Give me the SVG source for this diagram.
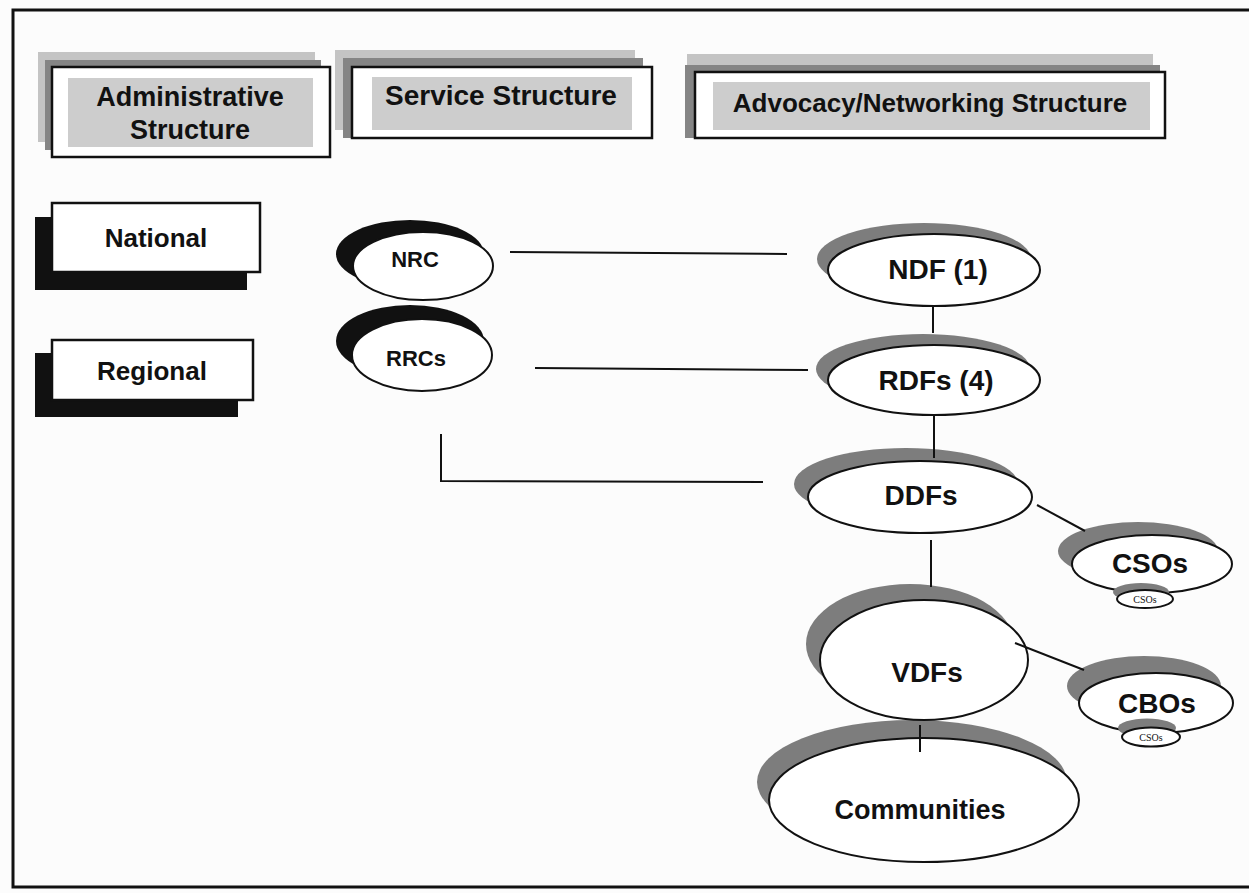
<svg xmlns="http://www.w3.org/2000/svg" width="1249" height="893" viewBox="0 0 1249 893">
  <style>
    .lbl { font-family: "Liberation Sans", Arial, sans-serif; font-weight: bold; fill: #111; text-anchor: middle; }
    .small { font-family: "Liberation Serif", "Times New Roman", serif; fill: #111; text-anchor: middle; font-size: 10px; }
    .box { fill: #ffffff; stroke: #111; stroke-width: 2.5; }
    .lite { fill: #c4c4c4; }
    .dark { fill: #858585; }
    .inner { fill: #cdcdcd; }
    .blk { fill: #111; }
    .oval { fill: #ffffff; stroke: #111; stroke-width: 2; }
    .gsh { fill: #7d7d7d; }
    .conn { stroke: #111; stroke-width: 2; fill: none; }
  </style>
  <rect x="0" y="0" width="1249" height="893" fill="#fcfcfc"/>
  <path d="M1249,10 H13 V887 H1249" fill="none" stroke="#111" stroke-width="3"/>

  <g id="hdr-admin">
    <rect class="lite" x="38" y="52" width="277" height="90"/>
    <rect class="dark" x="45" y="60" width="276" height="90"/>
    <rect class="box" x="52" y="67" width="278" height="90"/>
    <rect class="inner" x="68" y="78" width="245" height="69"/>
    <text class="lbl" x="190" y="106" font-size="27">Administrative</text>
    <text class="lbl" x="190" y="139" font-size="27">Structure</text>
  </g>
  <g id="hdr-service">
    <rect class="lite" x="335" y="50" width="300" height="80"/>
    <rect class="dark" x="343" y="58" width="300" height="80"/>
    <rect class="box" x="352" y="67" width="300" height="71"/>
    <rect class="inner" x="372" y="77" width="260" height="53"/>
    <text class="lbl" x="501" y="105" font-size="28">Service Structure</text>
  </g>
  <g id="hdr-advocacy">
    <rect class="lite" x="687" y="54" width="466" height="80"/>
    <rect class="dark" x="685" y="65" width="475" height="73"/>
    <rect class="box" x="695" y="72" width="470" height="66"/>
    <rect class="inner" x="713" y="82" width="437" height="48"/>
    <text class="lbl" x="930" y="112" font-size="26">Advocacy/Networking Structure</text>
  </g>

  <g id="lvl-national">
    <rect class="blk" x="35" y="217" width="212" height="73"/>
    <rect class="box" x="52" y="203" width="208" height="69" stroke-width="3"/>
    <text class="lbl" x="156" y="247" font-size="26">National</text>
  </g>
  <g id="lvl-regional">
    <rect class="blk" x="35" y="353" width="203" height="64"/>
    <rect class="box" x="52" y="340" width="201" height="60" stroke-width="3"/>
    <text class="lbl" x="152" y="380" font-size="26">Regional</text>
  </g>

  <g id="node-rrcs">
    <ellipse class="blk" cx="410" cy="341" rx="74" ry="36"/>
    <ellipse class="oval" cx="422" cy="355" rx="70" ry="36"/>
    <text class="lbl" x="416" y="366" font-size="22">RRCs</text>
  </g>
  <g id="node-nrc">
    <ellipse class="blk" cx="410" cy="254" rx="74" ry="34"/>
    <ellipse class="oval" cx="423" cy="266" rx="70" ry="34"/>
    <text class="lbl" x="415" y="267" font-size="22">NRC</text>
  </g>

  <g id="node-ndf">
    <ellipse class="gsh" cx="924" cy="259" rx="107" ry="36"/>
    <ellipse class="oval" cx="934" cy="270" rx="106" ry="36"/>
    <text class="lbl" x="938" y="279" font-size="28">NDF (1)</text>
  </g>
  <g id="node-rdfs">
    <ellipse class="gsh" cx="923" cy="369" rx="107" ry="35"/>
    <ellipse class="oval" cx="934" cy="380" rx="106" ry="35"/>
    <text class="lbl" x="936" y="390" font-size="28">RDFs (4)</text>
  </g>
  <g id="node-ddfs">
    <ellipse class="gsh" cx="906" cy="484" rx="112" ry="36"/>
    <ellipse class="oval" cx="920" cy="497" rx="112" ry="36"/>
    <text class="lbl" x="921" y="505" font-size="28">DDFs</text>
  </g>
  <g id="node-csos">
    <ellipse class="gsh" cx="1138" cy="551" rx="80" ry="29"/>
    <ellipse class="oval" cx="1152" cy="564" rx="80" ry="29"/>
    <text class="lbl" x="1150" y="573" font-size="28">CSOs</text>
    <ellipse class="gsh" cx="1141" cy="592" rx="28" ry="9"/>
    <ellipse class="oval" cx="1145" cy="599" rx="28" ry="9" stroke-width="1.2"/>
    <text class="small" x="1145" y="603">CSOs</text>
  </g>
  <g id="node-communities">
    <ellipse class="gsh" cx="912" cy="782" rx="155" ry="62"/>
    <ellipse class="oval" cx="924" cy="800" rx="155" ry="62"/>
    <text class="lbl" x="920" y="819" font-size="27">Communities</text>
  </g>
  <g id="node-vdfs">
    <ellipse class="gsh" cx="910" cy="644" rx="104" ry="60"/>
    <ellipse class="oval" cx="924" cy="660" rx="104" ry="60"/>
    <text class="lbl" x="927" y="682" font-size="28">VDFs</text>
  </g>
  <g id="node-cbos">
    <ellipse class="gsh" cx="1144" cy="686" rx="77" ry="30"/>
    <ellipse class="oval" cx="1156" cy="703" rx="77" ry="30"/>
    <text class="lbl" x="1157" y="713" font-size="28">CBOs</text>
    <ellipse class="gsh" cx="1147" cy="728" rx="29" ry="9.5"/>
    <ellipse class="oval" cx="1151" cy="737" rx="29" ry="9.5" stroke-width="1.2"/>
    <text class="small" x="1151" y="741">CSOs</text>
  </g>

  <g id="connectors">
    <line class="conn" x1="510" y1="252" x2="787" y2="254"/>
    <line class="conn" x1="535" y1="368" x2="808" y2="370"/>
    <line class="conn" x1="933" y1="306" x2="933" y2="333"/>
    <line class="conn" x1="934" y1="415" x2="934" y2="458"/>
    <polyline class="conn" points="441,434 441,481 763,482"/>
    <line class="conn" x1="1037" y1="505" x2="1085" y2="531"/>
    <line class="conn" x1="931" y1="540" x2="931" y2="587"/>
    <line class="conn" x1="1015" y1="643" x2="1084" y2="670"/>
    <line class="conn" x1="920" y1="725" x2="920" y2="752"/>
  </g>
</svg>
